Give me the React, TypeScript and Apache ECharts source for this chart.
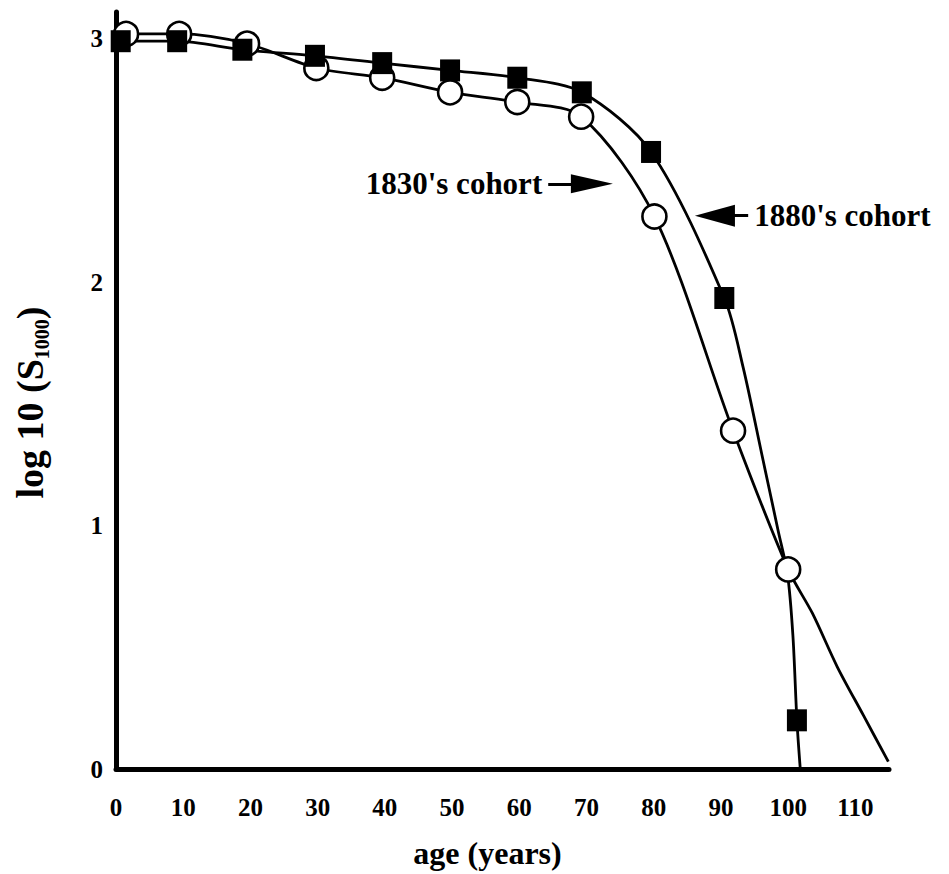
import React, { useEffect, useRef } from "react";
import * as echarts from "echarts";

// ---- data ----
// 1830's cohort (open circles)
const ages1830 = [1.5, 9.4, 19.5, 29.8, 39.6, 49.7, 59.7, 69.2, 80.1, 91.8, 100.0];
const surv1830 = [3.02, 3.02, 2.98, 2.88, 2.84, 2.78, 2.74, 2.68, 2.27, 1.39, 0.82];
// extra points read along the 1830 curve beyond the last marker
const tailAges1830 = [103.6, 107.3, 111.2, 114.9];
const tailSurv1830 = [0.64, 0.42, 0.22, 0.03];

// 1880's cohort (filled squares)
const ages1880 = [0.7, 9.1, 18.8, 29.6, 39.6, 49.7, 59.7, 69.3, 79.6, 90.5, 101.3];
const surv1880 = [2.99, 2.99, 2.955, 2.93, 2.9, 2.87, 2.84, 2.78, 2.535, 1.935, 0.2];
// extra points read along the 1880 curve after age 90
const bendAges1880 = [93.3, 96.1, 98.5, 99.9, 100.7, 101.8];
const bendSurv1880 = [1.65, 1.29, 0.98, 0.8, 0.55, 0.0];

// annotation arrows (data coordinates)
const arrow1830 = { from: [64.3, 2.404], to: [70.8, 2.404], text: "1830's cohort" };
const arrow1880 = { from: [94.05, 2.273], to: [89.1, 2.273], text: "1880's cohort" };

const yTitle = "{a|log 10 (S}{s|1000}{a|)}";
const xTitle = "age (years)";

const FONT = "'Liberation Serif', 'Times New Roman', serif";

function pairs(xs: number[], ys: number[]) {
  return xs.map((x, i) => [x, ys[i]]);
}
function merged(xs1: number[], ys1: number[], xs2: number[], ys2: number[]) {
  return pairs(xs1, ys1)
    .concat(pairs(xs2, ys2))
    .sort((a, b) => a[0] - b[0]);
}

export default function App() {
  const ref = useRef<HTMLDivElement>(null);
  useEffect(() => {
    const chart = echarts.init(ref.current!, null, { renderer: "svg" });
    const labelStyle = {
      fontFamily: FONT,
      fontWeight: "bold" as const,
      fontSize: 31,
      color: "#000",
    };
    const option: any = {
      animation: false,
      backgroundColor: "#fff",
      grid: { left: 116, right: 60, top: 12, bottom: 100, containLabel: false },
      xAxis: {
        type: "value",
        min: 0,
        max: 115,
        interval: 10,
        name: xTitle,
        nameLocation: "middle",
        nameGap: 68,
        nameTextStyle: {
          fontFamily: FONT,
          fontWeight: "bold",
          fontSize: 32,
          color: "#000",
          padding: [0, 30, 0, 0],
        },
        axisLine: { show: true, onZero: false, lineStyle: { color: "#000", width: 5 } },
        axisTick: { show: false },
        splitLine: { show: false },
        axisLabel: {
          showMaxLabel: false,
          margin: 26,
          fontFamily: FONT,
          fontWeight: "bold",
          fontSize: 25,
          color: "#000",
        },
      },
      yAxis: {
        type: "value",
        min: 0,
        max: 3.11,
        interval: 1,
        name: yTitle,
        nameLocation: "middle",
        nameRotate: 90,
        nameGap: 64,
        nameTextStyle: {
          padding: [0, 24, 0, 0],
          rich: {
            a: { fontFamily: FONT, fontWeight: "bold", fontSize: 38, lineHeight: 44, color: "#000" },
            s: {
              fontFamily: FONT,
              fontWeight: "bold",
              fontSize: 20,
              lineHeight: 20,
              verticalAlign: "bottom",
              color: "#000",
            },
          },
        },
        axisLine: { show: true, onZero: false, lineStyle: { color: "#000", width: 5 } },
        axisTick: { show: false },
        splitLine: { show: false },
        axisLabel: {
          showMaxLabel: false,
          margin: 13,
          fontFamily: FONT,
          fontWeight: "bold",
          fontSize: 25,
          color: "#000",
        },
      },
      series: [
        {
          name: "1830 curve",
          type: "line",
          data: merged(ages1830, surv1830, tailAges1830, tailSurv1830),
          smooth: 0.3,
          showSymbol: false,
          symbol: "none",
          z: 2,
          lineStyle: { color: "#000", width: 2.8 },
          silent: true,
          markLine: {
            silent: true,
            symbol: ["none", "triangle"],
            lineStyle: { type: "solid", color: "#000", width: 3 },
            label: { show: true, position: "start", distance: 6, formatter: arrow1830.text, ...labelStyle },
            emphasis: { disabled: true },
            data: [
              [
                { coord: arrow1830.from, symbol: "none" },
                { coord: arrow1830.to, symbol: "triangle", symbolSize: [19, 42] },
              ],
            ],
          },
        },
        {
          name: "1880 curve",
          type: "line",
          data: merged(ages1880, surv1880, bendAges1880, bendSurv1880),
          smooth: 0.3,
          showSymbol: false,
          symbol: "none",
          z: 2,
          lineStyle: { color: "#000", width: 2.8 },
          silent: true,
          markLine: {
            silent: true,
            symbol: ["none", "triangle"],
            lineStyle: { type: "solid", color: "#000", width: 3 },
            label: { show: true, position: "start", distance: 6, formatter: arrow1880.text, ...labelStyle },
            emphasis: { disabled: true },
            data: [
              [
                { coord: arrow1880.from, symbol: "none" },
                { coord: arrow1880.to, symbol: "triangle", symbolSize: [22, 40] },
              ],
            ],
          },
        },
        {
          name: "1830's cohort",
          type: "scatter",
          data: pairs(ages1830, surv1830),
          symbol: "circle",
          symbolSize: 24,
          z: 3,
          itemStyle: { color: "#fff", borderColor: "#000", borderWidth: 2.6, opacity: 1 },
          silent: true,
        },
        {
          name: "1880's cohort",
          type: "scatter",
          data: pairs(ages1880, surv1880),
          symbol: "rect",
          symbolSize: [20, 22],
          z: 4,
          itemStyle: { color: "#000", opacity: 1 },
          silent: true,
        },
      ],
    };
    chart.setOption(option);
    return () => chart.dispose();
  }, []);
  return (
    <div
      ref={ref}
      style={{ position: "absolute", left: 0, top: 0, width: 949, height: 874 }}
    />
  );
}
